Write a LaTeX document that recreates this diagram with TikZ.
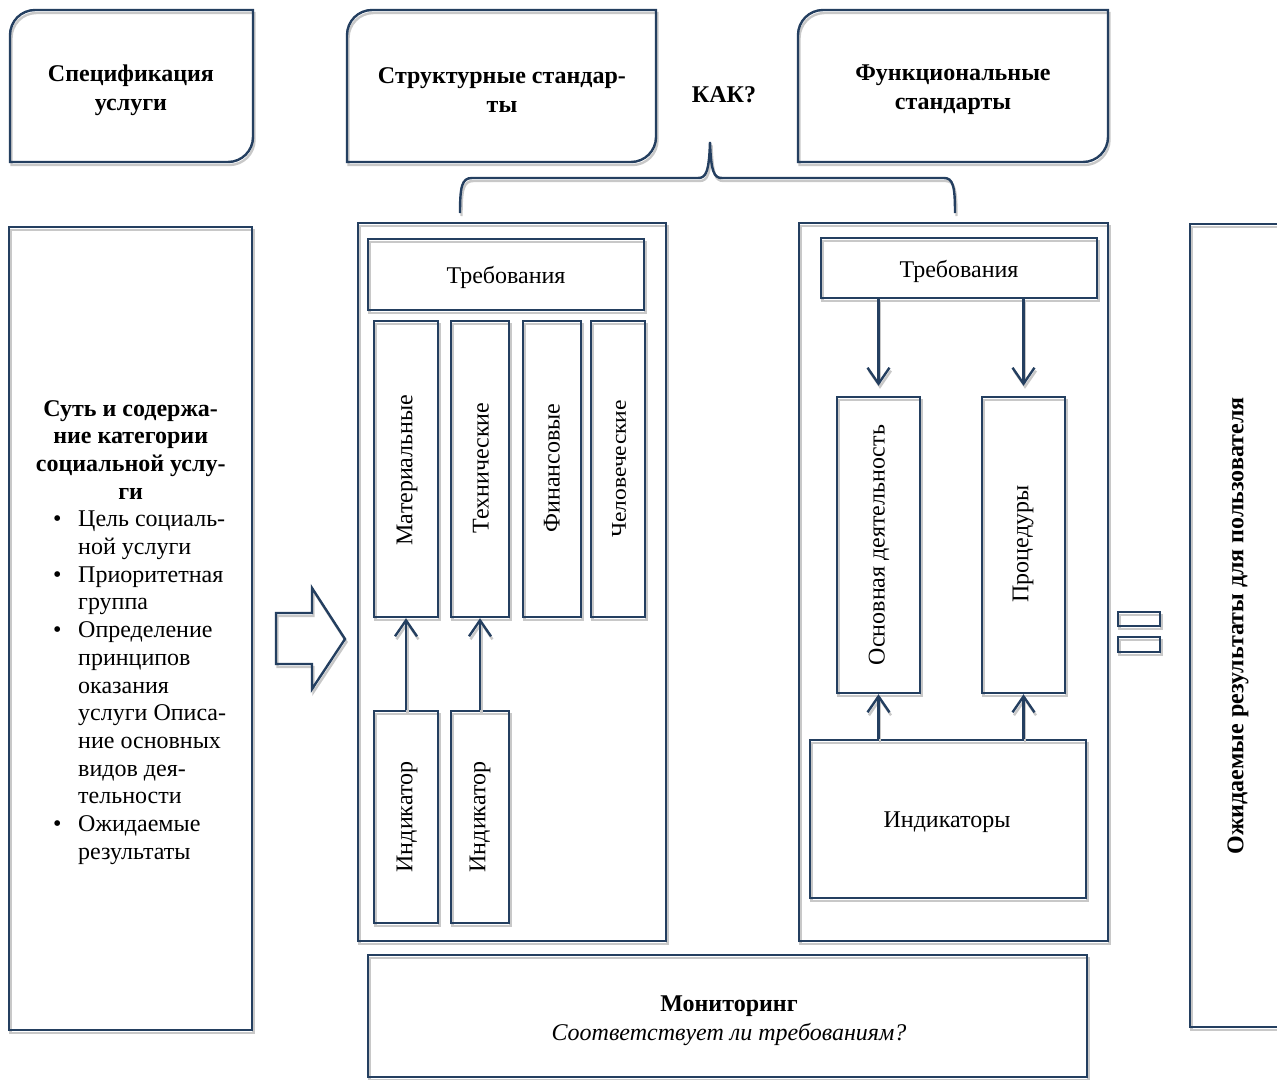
\documentclass[tikz,border=0pt]{standalone}
\usepackage{fontspec}
\setmainfont{Liberation Serif}
\newfontfamily\condfont[FakeStretch=1.12]{Liberation Serif}
\usetikzlibrary{arrows.meta}
\definecolor{navy}{RGB}{36,63,96}
\definecolor{shadowgray}{RGB}{200,200,200}
\tikzset{
  boxline/.style={draw=navy, line width=2.4pt, line join=miter,
    preaction={draw=shadowgray, line width=2.4pt, transform canvas={shift={(1.5,3)}}}},
  txt/.style={inner sep=0pt, align=center, font=\fontsize{24}{28}\selectfont},
  btxt/.style={inner sep=0pt, align=center, font=\fontsize{24}{29}\selectfont\bfseries},
  vtxt/.style={inner sep=0pt, rotate=90, font=\fontsize{24}{28}\selectfont},
  conn/.style={draw=navy, line width=2.4pt, -{Straight Barb[length=16pt,width=22pt,line width=2.4pt]},
    preaction={draw=shadowgray, line width=2.4pt, transform canvas={shift={(1.5,3)}}}}
}
\newcommand\roundbox[4]{%
  \draw[boxline] (#1,#4) -- (#1,#2+25) .. controls (#1,#2+11.2) and (#1+11.2,#2) .. (#1+25,#2)
    -- (#3,#2) -- (#3,#4-25) .. controls (#3,#4-11.2) and (#3-11.2,#4) .. (#3-25,#4) -- cycle;}
\newcommand\rbox[5]{% name, x1, y1, x2, y2
  \node[boxline, inner sep=0pt, minimum width={#4-#2}, minimum height={#5-#3}] (#1) at ({(#2+#4)/2},{(#3+#5)/2}) {};}
\begin{document}
\begin{tikzpicture}[x=1pt,y=-1pt]
\useasboundingbox (0,0) rectangle (1277,1079);
% top rounded boxes
\roundbox{10}{10}{253}{162}
\roundbox{347}{10}{656}{162}
\roundbox{798}{10}{1108}{162}
\node[btxt] (spec) at (131,90) {Спецификация\\услуги};
\node[btxt] (struct) at (502,90) {Структурные стандар-\\ты};
\node[btxt] (func) at (953,90) {Функциональные\\стандарты};
\node[btxt] (kak) at (724,95) {КАК?};
% brace
\coordinate (brL) at (460,213);
\coordinate (brR) at (955,213);
\coordinate (brT) at (710,142);
\draw[boxline] (brL) .. controls (460,186) and (462,178) .. (472,178) -- (698,178)
  .. controls (706,178) and (709,172) .. (brT) .. controls (711,172) and (714,178) .. (722,178)
  -- (944,178) .. controls (953,178) and (955,186) .. (brR);
% left box
\rbox{left}{9}{227}{252}{1030}
\node[anchor=north west, inner sep=0pt] (lefttxt) at (9,400) {\parbox{243pt}{%
  \fontsize{24}{27.7}\selectfont\parindent=0pt
  {\centering\bfseries Суть и содержа-\\ние категории\\социальной услу-\\ги\par}
  \raggedright
  \makebox[69pt][l]{\hspace{44pt}•}Цель социаль-\\
  \hspace*{69pt}ной услуги\\
  \makebox[69pt][l]{\hspace{44pt}•}Приоритетная\\
  \hspace*{69pt}группа\\
  \makebox[69pt][l]{\hspace{44pt}•}Определение\\
  \hspace*{69pt}принципов\\
  \hspace*{69pt}оказания\\
  \hspace*{69pt}услуги Описа-\\
  \hspace*{69pt}ние основных\\
  \hspace*{69pt}видов дея-\\
  \hspace*{69pt}тельности\\
  \makebox[69pt][l]{\hspace{44pt}•}Ожидаемые\\
  \hspace*{69pt}результаты\par}};
% block arrow
\draw[boxline] (276,613) -- (312,613) -- (312,588) -- (345,639) -- (312,689) -- (312,664) -- (276,664) -- cycle;
% structural
\rbox{sbig}{358}{223}{666}{941}
\rbox{sreq}{368}{239}{644}{310}
\node[txt] (sreqt) at (506,277) {Требования};
\rbox{mat}{374}{321}{438}{617}
\rbox{tech}{451}{321}{509}{617}
\rbox{fin}{523}{321}{581}{617}
\rbox{hum}{591}{321}{645}{617}
\node[vtxt] (matt) at (407,470) {Материальные};
\node[vtxt] (techt) at (481,468) {Технические};
\node[vtxt] (fint) at (552,468) {Финансовые};
\node[vtxt, font=\fontsize{21}{24}\selectfont\condfont] (humt) at (619,469) {Человеческие};
\rbox{ind1}{374}{711}{438}{923}
\rbox{ind2}{451}{711}{509}{923}
\node[vtxt] (ind1t) at (407,817) {Индикатор};
\node[vtxt] (ind2t) at (480,817) {Индикатор};
\draw[conn] (ind1.north) -- (mat.south);
\draw[conn] (ind2.north) -- (tech.south);
% functional
\rbox{fbig}{799}{223}{1108}{941}
\rbox{freq}{821}{238}{1097}{298}
\node[txt] (freqt) at (959,271) {Требования};
\rbox{main}{837}{397}{920}{693}
\rbox{proc}{982}{397}{1065}{693}
\node[vtxt] (maint) at (879,545) {Основная деятельность};
\node[vtxt] (proct) at (1023,544) {Процедуры};
\rbox{inds}{810}{740}{1086}{898}
\node[txt] (indst) at (947,822) {Индикаторы};
\draw[conn] (freq.south -| main.north) -- ([yshift=10pt]main.north);
\draw[conn] (freq.south -| proc.north) -- ([yshift=10pt]proc.north);
\draw[conn] (inds.north -| main.south) -- (main.south);
\draw[conn] (inds.north -| proc.south) -- (proc.south);
% equals
\rbox{eqa}{1118}{612}{1160}{626}
\rbox{eqb}{1118}{637}{1160}{652}
% right box
\draw[boxline] (1280,224) -- (1190,224) -- (1190,1027) -- (1280,1027);
\node[vtxt, font=\fontsize{24}{28}\selectfont\bfseries] (res) at (1238,626) {Ожидаемые результаты для пользователя};
% monitoring
\rbox{mon}{368}{955}{1087}{1077}
\node[inner sep=0pt, align=center, font=\fontsize{24}{29}\selectfont] (mont) at (729,1021) {\textbf{Мониторинг}\\\textit{Соответствует ли требованиям?}};
\end{tikzpicture}
\end{document}
